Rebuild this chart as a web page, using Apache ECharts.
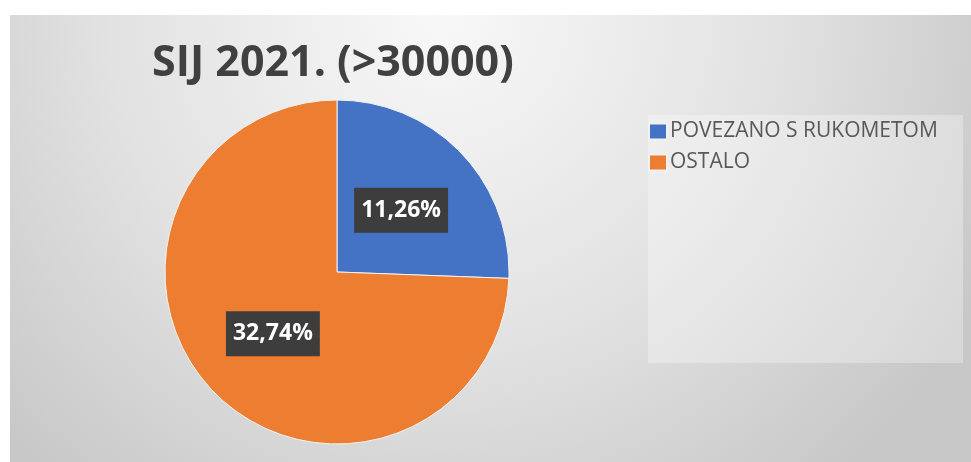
<!DOCTYPE html>
<html>
<head>
<meta charset="utf-8">
<title>SIJ 2021. (>30000)</title>
<script src="https://cdn.jsdelivr.net/npm/echarts@6/dist/echarts.min.js"></script>
<style>
  html, body {
    margin: 0;
    padding: 0;
    background: #ffffff;
  }
  #pieChart {
    width: 971px;
    height: 462px;
  }
</style>
</head>
<body>
<div id="pieChart"></div>
<script>
// podaci
const titleText = 'SIJ 2021. (>30000)';
const categories = ['POVEZANO S RUKOMETOM', 'OSTALO'];
const values = [11.26, 32.74];
const colors = ['#4472C4', '#ED7D31'];

const myChart = echarts.init(document.getElementById('pieChart'));

const seriesData = categories.map((name, i) => ({
  name: name,
  value: values[i],
  itemStyle: { color: colors[i] },
}));

const option = {
  animation: false,
  graphic: [
    {
      // siva pozadina s gradijentom
      type: 'rect',
      shape: { x: 10, y: 15, width: 961, height: 447 },
      style: {
        fill: new echarts.graphic.RadialGradient(0.45, 0, 1.35, [
          { offset: 0, color: '#f8f8f8' },
          { offset: 0.55, color: '#e2e2e2' },
          { offset: 1, color: '#c8c8c8' },
        ]),
      },
      silent: true,
    },
    {
      // okvir legende
      type: 'rect',
      shape: { x: 648, y: 115, width: 315, height: 248 },
      style: { fill: 'rgba(255,255,255,0.3)' },
      silent: true,
    },
  ],
  title: {
    text: titleText,
    left: 152,
    top: 42,
    padding: 0,
    textStyle: {
      fontFamily: 'Open Sans',
      fontWeight: 'bold',
      fontSize: 43,
      color: '#404040',
    },
  },
  legend: {
    orient: 'vertical',
    left: 648,
    top: 121,
    padding: 0,
    itemWidth: 18,
    itemHeight: 16,
    itemGap: 10,
    icon: 'rect',
    data: categories,
    textStyle: {
      fontFamily: 'Open Sans',
      fontSize: 21,
      color: '#595959',
      padding: [0, 0, 0, -2],
    },
  },
  series: [
    {
      type: 'pie',
      center: [337, 272],
      radius: 172,
      startAngle: 90,
      clockwise: true,
      data: seriesData,
      itemStyle: {
        borderColor: '#f2f2f2',
        borderWidth: 1,
      },
      label: {
        show: true,
        position: 'inside',
        formatter: (p) => p.value.toFixed(2).replace('.', ',') + '%',
        fontFamily: 'Open Sans',
        fontWeight: 'bold',
        fontSize: 23,
        lineHeight: 26,
        color: '#ffffff',
        backgroundColor: '#3d3d3d',
        padding: [10, 7, 9, 7],
      },
      labelLine: { show: false },
      emphasis: { disabled: true },
    },
  ],
};

myChart.setOption(option);
window.addEventListener('resize', () => myChart.resize());
</script>
</body>
</html>
